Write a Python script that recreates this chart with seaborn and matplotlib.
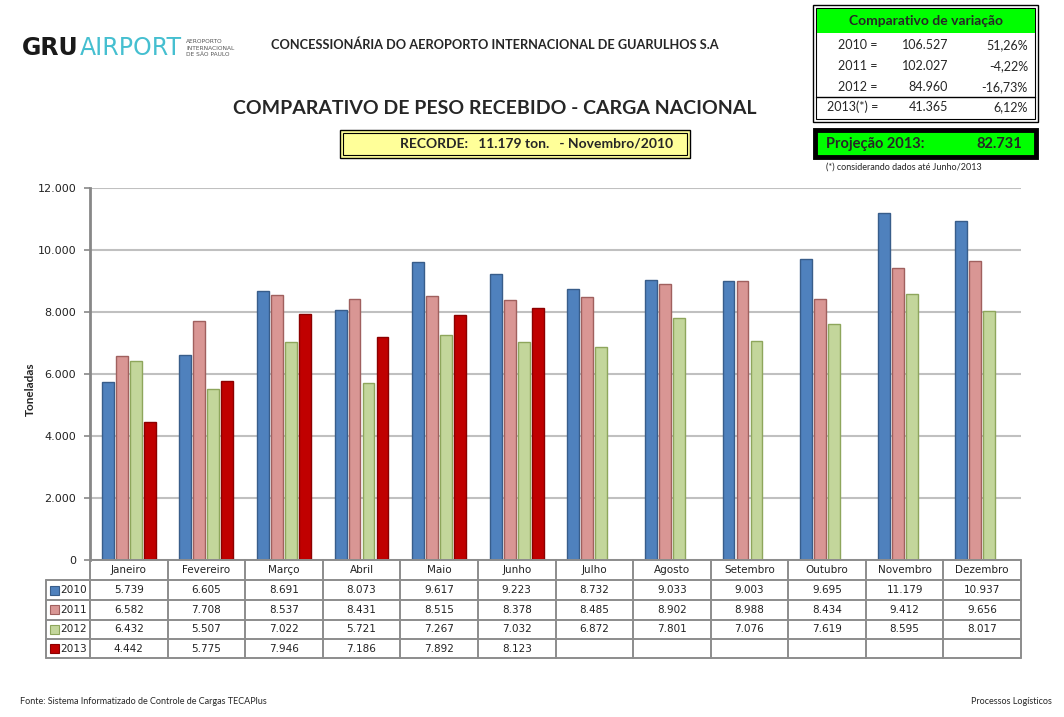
import matplotlib
matplotlib.use("Agg")
import matplotlib.pyplot as plt
import matplotlib.font_manager as fm
from matplotlib.patches import Rectangle
import numpy as np
import pandas as pd
import seaborn as sns

# ---------------- data ----------------
months = ["Janeiro", "Fevereiro", "Março", "Abril", "Maio", "Junho", "Julho",
          "Agosto", "Setembro", "Outubro", "Novembro", "Dezembro"]
years = ["2010", "2011", "2012", "2013"]
v2010 = [5739, 6605, 8691, 8073, 9617, 9223, 8732, 9033, 9003, 9695, 11179, 10937]
v2011 = [6582, 7708, 8537, 8431, 8515, 8378, 8485, 8902, 8988, 8434, 9412, 9656]
v2012 = [6432, 5507, 7022, 5721, 7267, 7032, 6872, 7801, 7076, 7619, 8595, 8017]
v2013 = [4442, 5775, 7946, 7186, 7892, 8123, None, None, None, None, None, None]
yticks = [0, 2000, 4000, 6000, 8000, 10000, 12000]

var_labels = ["2010 =", "2011 =", "2012 =", "2013(*) ="]
var_totals = ["106.527", "102.027", "84.960", "41.365"]
var_pcts = ["51,26%", "-4,22%", "-16,73%", "6,12%"]
projection_label = "Projeção 2013:"
projection_value = "82.731"
record_text = "RECORDE:   11.179 ton.   - Novembro/2010"

colors = ["#4F81BD", "#D99694", "#C3D69B", "#C00000"]
edges = ["#385D8A", "#A0605E", "#8EA65C", "#8C0000"]

series = {"2010": v2010, "2011": v2011, "2012": v2012, "2013": v2013}
rows = []
for y, vals in series.items():
    for m, v in zip(months, vals):
        rows.append({"Mês": m, "Ano": y, "Valor": np.nan if v is None else v})
df = pd.DataFrame(rows)


def fmt(v):
    return "" if v is None else f"{v:,}".replace(",", ".")


sns.set_theme(style="white")
fams = {f.name for f in fm.fontManager.ttflist}
TITLE_FONT = "Lato" if "Lato" in fams else "DejaVu Sans"
plt.rcParams["font.family"] = ["DejaVu Sans"]

W, H = 1064, 717
fig = plt.figure(figsize=(W / 100, H / 100), dpi=100)


def fx(px):
    return px / W


def fy(py):
    return 1 - py / H


# ---------------- main axes ----------------
L, R, T, B = 90, 1021, 188, 560
ax = fig.add_axes([fx(L), fy(B), fx(R - L), (B - T) / H])
sns.barplot(data=df, x="Mês", y="Valor", hue="Ano", order=months, hue_order=years,
            palette=colors, saturation=1, width=0.72, gap=0.15, ax=ax, legend=False,
            linewidth=1.0, errorbar=None)
for i, cont in enumerate(ax.containers):
    for bar in cont:
        bar.set_edgecolor(edges[i])
ax.set_xlim(-0.5, 11.5)
ax.set_ylim(0, 12000)
ax.set_yticks(yticks)
ax.set_yticklabels([fmt(t) if t else "0" for t in yticks], fontsize=8, color="#222222")
ax.set_xticks([])
ax.set_xlabel("")
ax.set_ylabel("")
ax.yaxis.grid(True, color="#C0C0C0", linewidth=1.5)
ax.set_axisbelow(True)
for s in ["top", "right", "bottom"]:
    ax.spines[s].set_visible(False)
ax.spines["left"].set_color("#878787")
ax.spines["left"].set_linewidth(2)
ax.tick_params(axis="y", length=4, width=1.2, color="#878787", left=True, pad=6)
fig.text(fx(30), fy(389), "Toneladas", rotation=90, fontsize=8.5, fontweight="bold",
         family=TITLE_FONT, ha="center", va="center")

# ---------------- data table ----------------
tab = fig.add_axes([fx(L), fy(658), fx(R - L), 98 / H])
tab.set_xlim(-0.5, 11.5)
tab.set_ylim(658, 560)
tab.axis("off")
row_edges = [560, 580, 600, 619.5, 639, 658]
unit = (R - L) / 12
leg_x = -0.5 - (L - 46) / unit
lc = "#8C8C8C"
lw = 1.4
tab.plot([-0.5, 11.5], [560, 560], color=lc, lw=lw, clip_on=False)
for yy in row_edges[1:]:
    tab.plot([leg_x, 11.5], [yy, yy], color=lc, lw=lw, clip_on=False)
for k in range(13):
    tab.plot([k - 0.5, k - 0.5], [560, 658], color=lc, lw=lw, clip_on=False)
tab.plot([leg_x, leg_x], [580, 658], color=lc, lw=lw, clip_on=False)
for i, m in enumerate(months):
    tab.text(i, 570, m, ha="center", va="center", fontsize=7.5, color="#222222")
for r, (yname, vals) in enumerate(series.items()):
    yc = (row_edges[r + 1] + row_edges[r + 2]) / 2
    for i, v in enumerate(vals):
        tab.text(i, yc, fmt(v), ha="center", va="center", fontsize=7.5, color="#222222")
    tab.add_patch(Rectangle((leg_x + 4 / unit, yc - 4.5), 9 / unit, 9, facecolor=colors[r],
                            edgecolor=edges[r], lw=0.8, clip_on=False))
    tab.text(leg_x + 14.5 / unit, yc, yname, ha="left", va="center", fontsize=7.6,
             color="#222222")

# ---------------- header texts ----------------
gru = fig.text(fx(22), fy(55), "GRU", fontsize=17, fontweight="bold",
               color="#1A1A1A", va="baseline", ha="left")
ap = ax.annotate("AIRPORT", xy=(1, 0), xycoords=gru, xytext=(1, 0),
                 textcoords="offset points", fontsize=17, color="#45BFD0",
                 va="bottom", ha="left", annotation_clip=False)
ax.annotate("AEROPORTO\nINTERNACIONAL\nDE SÃO PAULO", xy=(1, 0.5), xycoords=ap,
            xytext=(3, 0), textcoords="offset points", fontsize=4.2, color="#555555",
            va="center", ha="left", linespacing=1.3, annotation_clip=False)

fig.text(fx(495), fy(45), "CONCESSIONÁRIA DO AEROPORTO INTERNACIONAL DE GUARULHOS S.A",
         fontsize=9.2, fontweight="bold", family=TITLE_FONT, ha="center", va="center")
fig.text(fx(495), fy(108), "COMPARATIVO DE PESO RECEBIDO - CARGA NACIONAL",
         fontsize=14, fontweight="bold", family=TITLE_FONT, ha="center", va="center")

# record box (double border)
fig.add_artist(Rectangle((fx(340), fy(158)), fx(350), 28 / H, transform=fig.transFigure,
                         facecolor="#FFFF99", edgecolor="black", lw=1.0))
fig.add_artist(Rectangle((fx(343), fy(155)), fx(344), 22 / H, transform=fig.transFigure,
                         facecolor="none", edgecolor="black", lw=0.8))
fig.text(fx(537), fy(144), record_text, fontsize=10, fontweight="bold", family=TITLE_FONT,
         ha="center", va="center")

# variation box
fig.add_artist(Rectangle((fx(813), fy(122)), fx(225), 117 / H, transform=fig.transFigure,
                         facecolor="white", edgecolor="black", lw=1.0))
fig.add_artist(Rectangle((fx(816), fy(119)), fx(219), 111 / H, transform=fig.transFigure,
                         facecolor="none", edgecolor="black", lw=0.8))
fig.add_artist(Rectangle((fx(816.5), fy(33)), fx(218.5), 24 / H, transform=fig.transFigure,
                         facecolor="#00FF00", edgecolor="none"))
fig.text(fx(926), fy(21), "Comparativo de variação", fontsize=10, fontweight="bold",
         family=TITLE_FONT, ha="center", va="center")
row_y = [45, 66, 87, 107]
for lab, tot, pct, yy in zip(var_labels, var_totals, var_pcts, row_y):
    fig.text(fx(878), fy(yy), lab, fontsize=9, family=TITLE_FONT, ha="right", va="center")
    fig.text(fx(948), fy(yy), tot, fontsize=9, family=TITLE_FONT, ha="right", va="center")
    fig.text(fx(1028), fy(yy), pct, fontsize=9, family=TITLE_FONT, ha="right", va="center")
fig.add_artist(plt.Line2D([fx(816), fx(1035)], [fy(96.5), fy(96.5)],
                          transform=fig.transFigure, color="black", lw=1.0))

# projection box
fig.add_artist(Rectangle((fx(815), fy(157)), fx(221), 27 / H, transform=fig.transFigure,
                         facecolor="#00FF00", edgecolor="black", lw=3.5))
fig.text(fx(826), fy(144), projection_label, fontsize=10.5, fontweight="bold",
         family=TITLE_FONT, ha="left", va="center")
fig.text(fx(1022), fy(144), projection_value, fontsize=10.5, fontweight="bold",
         family=TITLE_FONT, ha="right", va="center")
fig.text(fx(826), fy(167), "(*) considerando dados até Junho/2013", fontsize=6.5,
         family=TITLE_FONT, ha="left", va="center")

# footer
fig.text(fx(20), fy(702), "Fonte: Sistema Informatizado de Controle de Cargas TECAPlus",
         fontsize=6.5, family=TITLE_FONT, ha="left", va="center")
fig.text(fx(1052), fy(702), "Processos Logísticos", fontsize=6.5, family=TITLE_FONT,
         ha="right", va="center")

fig.savefig("out.png", dpi=100, facecolor="white")
